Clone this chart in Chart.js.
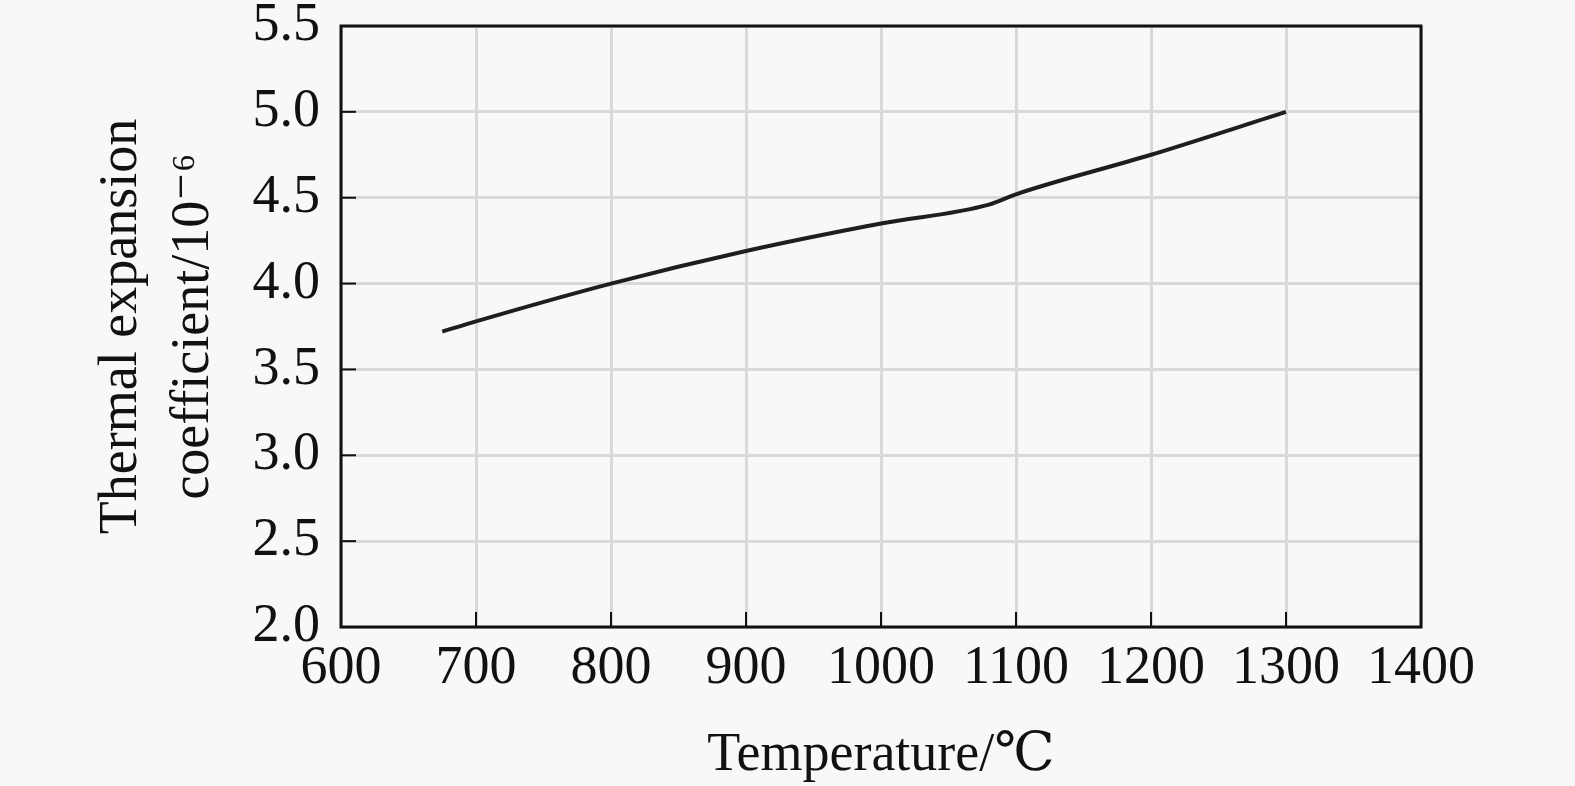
<!DOCTYPE html>
<html>
<head>
<meta charset="utf-8">
<script src="https://cdn.jsdelivr.net/npm/chart.js@4.4.1/dist/chart.umd.min.js"></script>
<style>
  html, body { margin: 0; padding: 0; background: #f8f8f8; }
  #wrap { width: 1575px; height: 786px; }
</style>
</head>
<body>
<div id="wrap"><canvas id="c" width="1575" height="786"></canvas></div>
<script>
const temperatures = [675, 700, 800, 900, 1000, 1080, 1100, 1200, 1300];
const coefficients = [3.72, 3.78, 4.00, 4.19, 4.35, 4.46, 4.52, 4.75, 5.00];
const xTicks = [600, 700, 800, 900, 1000, 1100, 1200, 1300, 1400];
const yTicks = [2.0, 2.5, 3.0, 3.5, 4.0, 4.5, 5.0, 5.5];
const xTitle = 'Temperature/\u2103';
const yTitle = ['Thermal expansion', 'coefficient/10\u207B\u2076'];

const FONT = "'Liberation Serif', 'DejaVu Serif', 'Times New Roman', serif";

const frame = {
  id: 'frame',
  afterDatasetsDraw(chart) {
    const { ctx, chartArea: a, scales } = chart;
    ctx.save();
    ctx.strokeStyle = '#111';
    ctx.lineWidth = 2;
    const tl = 15;
    xTicks.forEach(v => {
      const px = scales.x.getPixelForValue(v);
      ctx.beginPath(); ctx.moveTo(px, a.bottom); ctx.lineTo(px, a.bottom - tl); ctx.stroke();
    });
    yTicks.forEach(v => {
      const py = scales.y.getPixelForValue(v);
      ctx.beginPath(); ctx.moveTo(a.left, py); ctx.lineTo(a.left + tl, py); ctx.stroke();
    });
    ctx.lineWidth = 3;
    ctx.strokeRect(a.left, a.top, a.right - a.left, a.bottom - a.top);
    ctx.restore();
  }
};

new Chart(document.getElementById('c'), {
  type: 'scatter',
  data: {
    datasets: [{
      data: temperatures.map((t, i) => ({ x: t, y: coefficients[i] })),
      showLine: true,
      borderColor: '#1e1e1e',
      borderWidth: 4,
      pointRadius: 0,
      tension: 0.3,
      cubicInterpolationMode: 'monotone',
      fill: false
    }]
  },
  options: {
    responsive: false,
    animation: false,
    devicePixelRatio: 1,
    layout: { padding: { left: 0, right: 154, top: 26, bottom: 0 } },
    plugins: { legend: { display: false }, tooltip: { enabled: false } },
    scales: {
      x: {
        type: 'linear',
        min: 600, max: 1400,
        afterBuildTicks: s => { s.ticks = xTicks.map(v => ({ value: v })); },
        afterFit: s => { s.height = 159; s.paddingLeft = 0; s.paddingRight = 0; },
        grid: { color: '#d9d9d9', lineWidth: 3, drawTicks: false },
        border: { display: false },
        ticks: {
          padding: 9,
          color: '#111',
          maxRotation: 0,
          autoSkip: false,
          font: { family: FONT, size: 54, lineHeight: 1.2 },
          callback: v => String(v)
        },
        title: {
          display: true,
          text: xTitle,
          color: '#111',
          padding: 0,
          font: { family: FONT, size: 54, lineHeight: 1.1 }
        }
      },
      y: {
        type: 'linear',
        min: 2.0, max: 5.5,
        afterBuildTicks: s => { s.ticks = yTicks.map(v => ({ value: v })); },
        afterFit: s => { s.width = 341; s.paddingTop = 0; s.paddingBottom = 0; },
        grid: { color: '#d9d9d9', lineWidth: 3, drawTicks: false },
        border: { display: false },
        ticks: {
          padding: 21,
          color: '#111',
          autoSkip: false,
          font: { family: FONT, size: 54, lineHeight: 0.9 },
          callback: v => Number(v).toFixed(1)
        },
        title: {
          display: true,
          text: yTitle,
          color: '#111',
          padding: { top: 86, bottom: 0 },
          font: { family: FONT, size: 54, lineHeight: 1.33 }
        }
      }
    }
  },
  plugins: [frame]
});
</script>
</body>
</html>
